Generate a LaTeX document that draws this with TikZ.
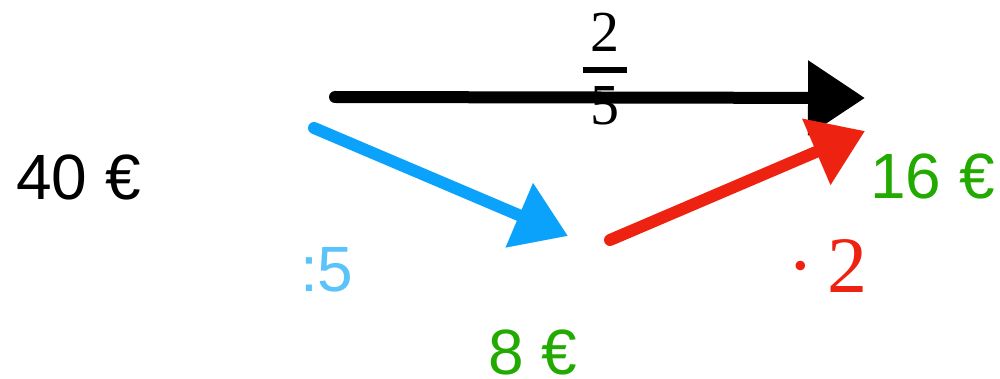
\documentclass[tikz,border=0pt]{standalone}
\usepackage{fontspec}
\setmainfont{Liberation Serif}
\newfontfamily\labelsans{Liberation Sans}
\usetikzlibrary{arrows.meta}
\definecolor{chalkblack}{HTML}{000000}
\definecolor{chalkblue}{HTML}{0AA2FA}
\definecolor{lightblue}{HTML}{5AC3FA}
\definecolor{chalkred}{HTML}{EE2210}
\definecolor{moneygreen}{HTML}{22AA00}
\tikzset{
  amount/.style={inner sep=0pt, anchor=base west, text depth=0pt, font=\labelsans\fontsize{64}{64}\selectfont},
  serifnum/.style={inner sep=0pt, font=\fontsize{58}{58}\selectfont},
  chalkarrow/.style={line width=12pt, line cap=round}
}
\begin{document}
\begin{tikzpicture}[x=1pt,y=-1pt]
\useasboundingbox (0,0) rectangle (1000,379);
% amounts
\node[amount] (forty) at (16,200) {40 €};
\node[amount, text=moneygreen] (sixteen) at (870,199) {16 €};
\node[amount, text=moneygreen] (eight) at (488,374) {8 €};
\node[amount, text=lightblue] (divfive) at (300,291) {:5};
\node[inner sep=0pt, anchor=base west, text depth=0pt, text=chalkred, font=\fontsize{80}{80}\selectfont] (timestwo) at (787,292) {·\kern14pt 2};
% fraction
\node[serifnum, anchor=base] (fracnum) at (605,52) {2};
\node[serifnum, anchor=base] (fracden) at (605,125) {5};
\fill[chalkblack] (583,67) rectangle (627,73);
% arrow end points
\coordinate (bstart) at (335,97);
\coordinate (bend) at (865,98);
\coordinate (ustart) at (314,128);
\coordinate (uend) at (568,236);
\coordinate (rstart) at (610,240);
\coordinate (rend) at (865,131);
% arrows
\draw[chalkarrow, chalkblack, -{Triangle[length=57pt,width=72pt]}] (bstart) -- (bend);
\draw[chalkarrow, chalkblue, -{Triangle[length=53pt,width=67pt]}] (ustart) -- (uend);
\draw[chalkarrow, chalkred, -{Triangle[length=53pt,width=69pt]}] (rstart) -- (rend);
\end{tikzpicture}
\end{document}
